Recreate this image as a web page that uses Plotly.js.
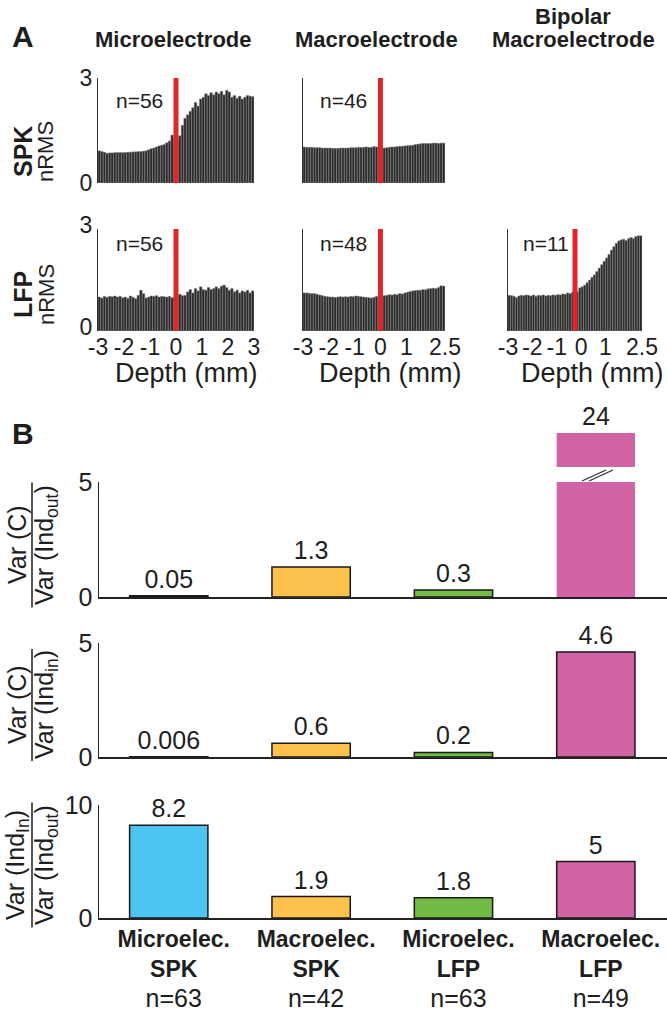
<!DOCTYPE html>
<html><head><meta charset="utf-8">
<script src="https://cdn.plot.ly/plotly-3.0.1.min.js"></script>
<style>html,body{margin:0;padding:0;background:#fff}#chart{width:667px;height:1015px}</style>
</head><body><div id="chart"></div>
<script>
// ---------- Panel A data: normalized RMS per 0.1 mm depth bin ----------
const binStart = -3;      // mm, left edge of first bin
const binWidth = 0.1;     // mm

const spkMicro = [0.92,0.90,0.88,0.85,0.86,0.86,0.87,0.87,0.87,0.87,
                  0.87,0.88,0.88,0.89,0.89,0.90,0.90,0.91,0.92,0.95,
                  0.98,1.00,1.03,1.06,1.08,1.10,1.15,1.20,1.37,1.25,
                  1.22,1.35,1.65,1.85,1.95,2.05,2.15,2.30,2.20,2.40,
                  2.45,2.55,2.50,2.58,2.52,2.60,2.55,2.62,2.52,2.65,
                  2.60,2.45,2.50,2.42,2.48,2.40,2.45,2.50,2.48,2.47];
const spkMacro = [1.03,1.02,1.02,1.02,1.01,1.01,1.01,1.00,1.00,1.00,
                  1.00,0.99,0.99,0.99,1.00,1.00,1.00,1.00,1.01,1.01,
                  1.01,1.02,1.02,1.02,1.03,1.02,1.02,1.04,1.03,1.00,
                  0.99,1.00,1.01,1.02,1.03,1.03,1.04,1.05,1.05,1.06,
                  1.07,1.07,1.08,1.10,1.11,1.12,1.13,1.13,1.13,1.13,
                  1.14,1.14,1.13,1.14,1.14];
const lfpMicro = [1.00,0.97,1.02,0.99,1.02,1.01,1.03,1.00,1.02,0.98,
                  1.00,0.96,1.03,0.99,0.95,1.05,1.20,1.10,0.97,1.00,
                  1.03,1.02,1.04,1.00,1.02,1.01,1.00,1.02,0.98,1.00,
                  1.05,1.08,1.04,1.05,1.15,1.22,1.12,1.25,1.18,1.30,
                  1.22,1.20,1.28,1.22,1.25,1.30,1.25,1.32,1.35,1.28,
                  1.20,1.25,1.15,1.20,1.12,1.18,1.15,1.20,1.12,1.18];
const lfpMacro = [1.12,1.12,1.11,1.10,1.10,1.08,1.06,1.04,1.02,1.01,
                  1.00,1.00,0.99,1.00,1.01,1.00,1.01,1.00,1.02,1.01,
                  1.03,1.02,1.01,1.00,0.99,0.98,0.97,0.99,1.02,1.00,
                  1.02,1.04,1.05,1.07,1.06,1.08,1.07,1.10,1.09,1.12,
                  1.14,1.16,1.18,1.19,1.20,1.20,1.22,1.21,1.24,1.25,
                  1.26,1.25,1.28,1.33,1.32];
const lfpBipolar = [1.05,1.04,1.02,0.98,1.03,1.05,1.04,1.06,1.05,1.03,
                    1.06,1.02,1.05,1.04,1.06,1.03,1.05,1.04,1.06,1.05,
                    1.07,1.06,1.09,1.08,1.12,1.10,1.14,1.15,1.15,1.27,
                    1.30,1.35,1.42,1.50,1.58,1.65,1.75,1.85,1.95,2.05,
                    2.15,2.25,2.38,2.48,2.58,2.65,2.68,2.70,2.66,2.72,
                    2.75,2.72,2.78,2.80,2.80];

const nLabels = [["n=56","n=46",null],["n=56","n=48","n=11"]];
const redLineDepth = [0, 0, -0.25];   // entry depth marker per column
const colTitles = [["Microelectrode"],["Macroelectrode"],["Bipolar","Macroelectrode"]];
const rowNames = ["SPK","LFP"];
const xTitle = "Depth (mm)";
const tickMicro = [-3,-2,-1,0,1,2,3];
const tickMacro = [-3,-2,-1,0,1,2.5];

// ---------- Panel B data ----------
const catKeys   = ["Microelec. SPK","Macroelec. SPK","Microelec. LFP","Macroelec. LFP"];
const catTop    = ["Microelec.","Macroelec.","Microelec.","Macroelec."];
const catSignal = ["SPK","SPK","LFP","LFP"];
const catN      = ["n=63","n=42","n=63","n=49"];
const varC_IndOut   = [0.05, 1.3, 0.3, 24];
const varC_IndIn    = [0.006, 0.6, 0.2, 4.6];
const varIndIn_Out  = [8.2, 1.9, 1.8, 5];
const barColors = ["#4cc5f1","#fdc14e","#72bb45","#d063a3"];

// ---------- helpers (pixel -> paper) ----------
const W = 667, H = 1015;
const FONT = "Liberation Sans, Arial, Helvetica, sans-serif";
const INK = "#1e1e1e";
const xd = (a,b) => [a/W, b/W];
const yd = (top,bot) => [1-bot/H, 1-top/H];
const PX = v => v/W, PY = v => 1 - v/H;

const traces = [];
const layout = {
  width: W, height: H, margin: {l:0,r:0,t:0,b:0},
  paper_bgcolor: "#fff", plot_bgcolor: "rgba(0,0,0,0)",
  showlegend: false, font: {family: FONT, color: INK},
  annotations: [], shapes: []
};
function paperText(x, y, text, size, extra) {
  layout.annotations.push(Object.assign({xref: "paper", yref: "paper", x: PX(x), y: PY(y),
    xanchor: "center", yanchor: "middle", text: text, showarrow: false,
    font: {size: size, family: FONT, color: INK}}, extra || {}));
}

// ---------- Panel A ----------
const colDom = [[98,254],[303,445],[508,642]];
const colRange = [[-3,3],[-3,2.5],[-3,2.5]];
const colTicks = [tickMicro, tickMacro, tickMacro];
const rowDom = [[78,183],[229,331]];
const histData = [[spkMicro, spkMacro, null],[lfpMicro, lfpMacro, lfpBipolar]];
const yMaxA = 3;

let ax = 0;
for (let r = 0; r < 2; r++) {
  for (let c = 0; c < 3; c++) {
    const vals = histData[r][c];
    if (!vals) continue;
    ax++;
    const xn = "x" + ax, yn = "y" + ax;
    layout["xaxis" + ax] = {
      domain: xd(colDom[c][0], colDom[c][1]), range: colRange[c], anchor: yn,
      showgrid: false, zeroline: false, showline: false, ticks: "",
      tickvals: colTicks[c], ticktext: colTicks[c].map(String),
      showticklabels: r === 1, tickfont: {size: 23, family: FONT, color: INK}
    };
    layout["yaxis" + ax] = {
      domain: yd(rowDom[r][0], rowDom[r][1]), range: [0, yMaxA], anchor: xn,
      showgrid: false, zeroline: false, showline: true, linecolor: "#333", linewidth: 1,
      ticks: "", tickvals: [0, yMaxA], ticktext: ["0", String(yMaxA)],
      ticklabelshift: r === 1 ? -4 : 0,
      showticklabels: c === 0, tickfont: {size: 23, family: FONT, color: INK}
    };
    traces.push({
      type: "bar", x0: binStart + binWidth/2, dx: binWidth, y: vals, width: binWidth,
      xaxis: xn, yaxis: yn,
      marker: {color: "#2b2b2b", line: {color: "#8c8c8c", width: 0.5}},
      hoverinfo: "skip"
    });
    traces.push({
      type: "scatter", mode: "lines", x: [redLineDepth[c], redLineDepth[c]], y: [0, yMaxA],
      xaxis: xn, yaxis: yn, line: {color: "#e3242b", width: 5}, hoverinfo: "skip"
    });
    if (nLabels[r][c]) {
      layout.annotations.push({
        xref: xn, yref: yn, x: -1.42, y: r === 0 ? 2.35 : 2.58, xanchor: "center", yanchor: "middle",
        text: nLabels[r][c], showarrow: false, font: {size: 21, family: FONT, color: INK}
      });
    }
  }
}
// x-axis titles (drawn as text under each column)
const xTitleX = [186, 390, 592];
xTitleX.forEach(x => paperText(x, 373, xTitle, 27));
// column titles
const titleX = [173, 376, 573];
colTitles.forEach((lines, i) => {
  lines.forEach((t, k) => paperText(titleX[i], 40 - (lines.length - 1 - k) * 24, "<b>" + t + "</b>", 22));
});
// row labels
const rowLabelY = [152, 295];
rowLabelY.forEach((cy, r) => {
  paperText(23, cy, "<b>" + rowNames[r] + "</b>", 25, {textangle: -90});
  paperText(46, cy, "nRMS", 22, {textangle: -90});
});
// panel letters
paperText(23, 37, "<b>A</b>", 30);
paperText(23, 433, "<b>B</b>", 30);

// ---------- Panel B ----------
const bXDom = xd(99, 667);
const bXRange = [-0.49, 3.5];
const fmt = v => String(v);
function bAxes(i, top, bot, ymax, showTicks) {
  layout["xaxis" + i] = {
    domain: bXDom, range: bXRange, anchor: "y" + i, type: "category",
    categoryorder: "array", categoryarray: catKeys,
    showgrid: false, zeroline: false, showline: true, linecolor: "#222", linewidth: 1.5,
    ticks: "", showticklabels: !!showTicks, ticklabelshift: 5,
    tickvals: catKeys,
    ticktext: catKeys.map((k, j) => "<b>" + catTop[j] + "</b><br><b>" + catSignal[j] +
      "</b><br><span style=\"font-size:25px\">" + catN[j] + "</span>"),
    tickfont: {size: 23, family: FONT, color: INK}
  };
  layout["yaxis" + i] = {
    domain: yd(top, bot), range: [0, ymax], anchor: "x" + i,
    showgrid: false, zeroline: false, showline: true, linecolor: "#222", linewidth: 1.5,
    ticks: "", tickvals: [0, ymax], ticktext: ["0", String(ymax)],
    tickfont: {size: 25, family: FONT, color: INK}
  };
}
function bBars(i, vals, lineW, texts, clip) {
  traces.push({
    type: "bar", x: catKeys, y: vals, width: 0.55, xaxis: "x" + i, yaxis: "y" + i,
    marker: {color: barColors, line: {color: "#1a1a1a", width: lineW}},
    text: texts, textposition: "outside", cliponaxis: clip, constraintext: "none",
    textfont: {size: 25, family: FONT, color: INK}, hoverinfo: "skip"
  });
}
const yMax1 = 5, yMax2 = 5, yMax3 = 10;
// chart 1 (broken axis)
bAxes(6, 482, 597, yMax1, false);
bBars(6, varC_IndOut, varC_IndOut.map(v => v > yMax1 ? 0 : 1.5),
      varC_IndOut.map(v => v > yMax1 ? "" : fmt(v)), true);
// break segment for values beyond the axis
const brkLo = 23;
layout.xaxis7 = {domain: bXDom, range: bXRange, anchor: "y7", type: "category",
  categoryorder: "array", categoryarray: catKeys, visible: false};
layout.yaxis7 = {domain: yd(433, 467), range: [brkLo, Math.max(...varC_IndOut)], anchor: "x7", visible: false};
traces.push({type: "bar", x: catKeys, y: varC_IndOut, width: 0.55, xaxis: "x7", yaxis: "y7",
  marker: {color: barColors, line: {width: 0}}, cliponaxis: true, hoverinfo: "skip"});
varC_IndOut.forEach((v, j) => {
  if (v > yMax1) {
    layout.annotations.push({xref: "x7", yref: "y7", x: catKeys[j], y: v, yanchor: "bottom", yshift: 1,
      text: fmt(v), showarrow: false, font: {size: 25, family: FONT, color: INK}});
  }
});
// break marks
[[582, 481, 606, 470], [589, 481, 613, 470]].forEach(s => {
  layout.shapes.push({type: "line", xref: "paper", yref: "paper",
    x0: PX(s[0]), y0: PY(s[1]), x1: PX(s[2]), y1: PY(s[3]), line: {color: "#333", width: 1.3}});
});
// chart 2
bAxes(8, 643, 757, yMax2, false);
bBars(8, varC_IndIn, 1.5, varC_IndIn.map(fmt), false);
// chart 3
bAxes(9, 805, 918, yMax3, true);
bBars(9, varIndIn_Out, 1.5, varIndIn_Out.map(fmt), false);

// fraction y-labels
const fracs = [
  ["Var (C)", "Var (Ind<sub>out</sub>)", 545, 125],
  ["Var (C)", "Var (Ind<sub>in</sub>)", 705, 112],
  ["Var (Ind<sub>In</sub>)", "Var (Ind<sub>out</sub>)", 865, 125]
];
fracs.forEach(([num, den, cy, len]) => {
  paperText(17, cy, num, 25, {textangle: -90});
  paperText(46, cy, den, 25, {textangle: -90});
  layout.shapes.push({type: "line", xref: "paper", yref: "paper",
    x0: PX(32), x1: PX(32), y0: PY(cy - len/2), y1: PY(cy + len/2), line: {color: INK, width: 1.5}});
});

Plotly.newPlot("chart", traces, layout, {staticPlot: true, displayModeBar: false});
</script></body></html>
